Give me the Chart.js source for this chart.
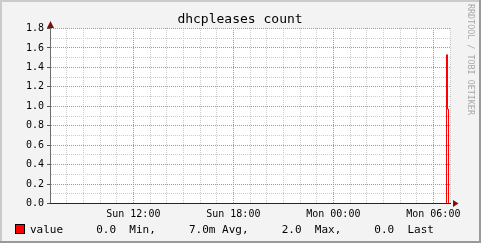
<!DOCTYPE html>
<html><head><meta charset="utf-8">
<script src="https://cdn.jsdelivr.net/npm/chart.js@4"></script>
<style>html,body{margin:0;padding:0;background:#f3f3f3;}#wrap{width:481px;height:243px;}</style>
</head><body><div id="wrap"><canvas id="c" width="481" height="243"></canvas></div>
<script>
const chartTitle = "dhcpleases count";
const seriesName = "value";
// sample times in hours since Sun 07:00, and the values
const sampleHours = [0, 23.79, 23.85, 23.91, 24];
const sampleValues = [0, 1.53, 0.97, 0, 0];
const xTickHours = [5, 11, 17, 23];
const xTickLabels = ["Sun 12:00", "Sun 18:00", "Mon 00:00", "Mon 06:00"];
const yTickLabels = ["0.0","0.2","0.4","0.6","0.8","1.0","1.2","1.4","1.6","1.8"];
const statNames = ["Min", "Avg", "Max", "Last"];
const statValues = ["0.0", "7.0m", "2.0", "0.0"];
const watermark = "RRDTOOL / TOBI OETIKER";

const MONO = "'DejaVu Sans Mono', 'Liberation Mono', monospace";
const MAJOR = '#dc8080';
const MINOR = '#cccccc';

function isMajorY(v) { return Math.round(v * 10) % 2 === 0; }
function isMajorX(v) { return xTickHours.indexOf(Math.round(v)) >= 0; }

const rrdPlugin = {
  id: 'rrd',
  beforeDraw(chart) {
    const ctx = chart.ctx, a = chart.chartArea;
    ctx.save();
    ctx.fillStyle = '#f3f3f3';
    ctx.fillRect(0, 0, 481, 243);
    ctx.fillStyle = '#cbcbcb';
    ctx.fillRect(0, 0, 481, 2);
    ctx.fillRect(0, 0, 2, 243);
    ctx.fillStyle = '#999999';
    ctx.fillRect(0, 241, 481, 2);
    ctx.fillRect(479, 0, 2, 243);
    ctx.fillStyle = '#ffffff';
    ctx.fillRect(a.left, a.top, a.right - a.left, a.bottom - a.top);
    // title
    ctx.fillStyle = '#000';
    ctx.font = "13px " + MONO;
    ctx.textAlign = 'center';
    ctx.textBaseline = 'alphabetic';
    ctx.fillText(chartTitle, 240, 23);
    ctx.restore();
  },
  beforeDatasetsDraw(chart) {
    // dotted rrdtool-style grid, placed by the chart's own scales
    const ctx = chart.ctx, a = chart.chartArea;
    const xs = chart.scales.x, ys = chart.scales.y;
    const L = Math.round(a.left), R = Math.round(a.right);
    const T = Math.floor(a.top), B = Math.floor(a.bottom);
    ctx.save();
    const drawH = (major) => ys.ticks.forEach(t => {
      if (isMajorY(t.value) !== major) return;
      const r = Math.floor(ys.getPixelForValue(t.value));
      if (r >= B) return;
      ctx.fillStyle = major ? MAJOR : MINOR;
      for (let x = L + 1; x <= R; x += 2) ctx.fillRect(x, r, 1, 1);
    });
    const drawV = (major) => xs.ticks.forEach(t => {
      if (isMajorX(t.value) !== major) return;
      const c = Math.floor(xs.getPixelForValue(t.value));
      if (c <= L) return;
      ctx.fillStyle = major ? MAJOR : MINOR;
      for (let y = B - 1; y >= T; y -= 2) ctx.fillRect(c, y, 1, 1);
    });
    drawH(false); drawV(false); drawH(true); drawV(true);
    // major tick marks on the y axis
    ctx.fillStyle = '#555';
    ys.ticks.forEach(t => {
      if (!isMajorY(t.value)) return;
      const r = Math.floor(ys.getPixelForValue(t.value));
      ctx.fillRect(L - 3, r, 3, 1);
    });
    ctx.restore();
  },
  afterDraw(chart) {
    const ctx = chart.ctx, a = chart.chartArea;
    ctx.save();
    // arrows
    ctx.fillStyle = '#7f1010';
    const yb = Math.floor(a.bottom) + 0.5;
    ctx.beginPath();
    ctx.moveTo(a.right + 3, yb - 3.5);
    ctx.lineTo(a.right + 3, yb + 3.5);
    ctx.lineTo(a.right + 8.5, yb);
    ctx.closePath(); ctx.fill();
    const xl = Math.round(a.left) + 0.5;
    ctx.beginPath();
    ctx.moveTo(xl - 3.5, a.top - 0.5);
    ctx.lineTo(xl + 3.5, a.top - 0.5);
    ctx.lineTo(xl, a.top - 7.5);
    ctx.closePath(); ctx.fill();
    // legend
    const txt = seriesName + "     " + statValues.map((v, i) => v.padEnd(5) + statNames[i] + (i < statNames.length - 1 ? "," : "")).join("     ");
    ctx.fillStyle = '#ff0000';
    ctx.fillRect(15, 224, 10, 10);
    ctx.strokeStyle = '#000';
    ctx.lineWidth = 1;
    ctx.strokeRect(15.5, 224.5, 9, 9);
    ctx.fillStyle = '#000';
    ctx.font = "11px " + MONO;
    ctx.textBaseline = 'alphabetic';
    ctx.textAlign = 'left';
    ctx.fillText(txt, 30, 233);
    // watermark
    ctx.translate(468, 4);
    ctx.rotate(Math.PI / 2);
    ctx.fillStyle = '#a8a8a8';
    ctx.font = "8.4px " + MONO;
    ctx.fillText(watermark, 0, 0);
    ctx.restore();
  }
};

new Chart(document.getElementById('c'), {
  type: 'line',
  data: {
    datasets: [{
      label: seriesName,
      data: sampleHours.map((h, i) => ({x: h, y: sampleValues[i]})),
      borderColor: '#ff0000',
      borderWidth: 1,
      pointRadius: 0,
      stepped: true,
      fill: false,
      tension: 0
    }]
  },
  options: {
    responsive: false,
    animation: false,
    events: [],
    layout: {padding: {left: 0, right: 31, top: 28.5, bottom: 0}},
    plugins: {
      legend: {display: false},
      tooltip: {enabled: false},
      title: {display: false}
    },
    scales: {
      x: {
        type: 'linear',
        min: 0, max: 24,
        afterFit: s => { s.height = 39.5; },
        grid: {display: true, drawOnChartArea: false, drawTicks: false},
        border: {display: true, color: '#800000', width: 1, z: 1},
        ticks: {
          stepSize: 1,
          autoSkip: false,
          maxRotation: 0, minRotation: 0,
          padding: 5,
          color: '#000',
          font: {family: MONO, size: 10},
          callback: v => { const k = xTickHours.indexOf(v); return k >= 0 ? xTickLabels[k] : ''; }
        }
      },
      y: {
        min: 0, max: 1.8,
        afterFit: s => { s.width = 50; },
        grid: {display: true, drawOnChartArea: false, drawTicks: false},
        border: {display: true, color: '#6e6e6e', width: 1},
        ticks: {
          stepSize: 0.1,
          autoSkip: false,
          padding: 6,
          color: '#000',
          font: {family: MONO, size: 10},
          callback: (v, i) => (i % 2 === 0) ? yTickLabels[i / 2] : ''
        }
      }
    }
  },
  plugins: [rrdPlugin]
});
</script>
</body></html>
